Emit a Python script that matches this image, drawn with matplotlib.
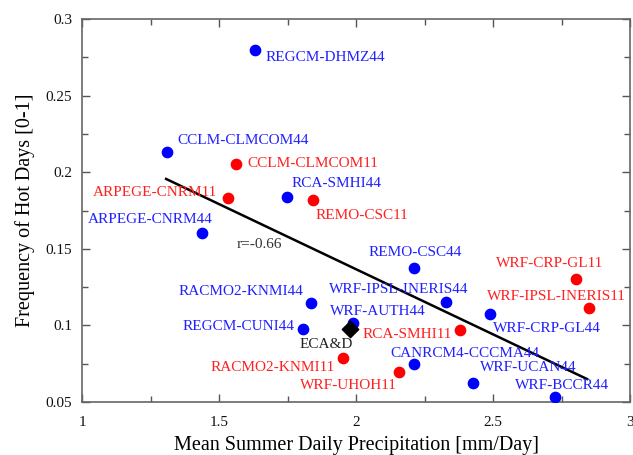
import numpy as np
import matplotlib
matplotlib.use('Agg')
from matplotlib import pyplot as plt
from matplotlib.ticker import MultipleLocator

plt.rcParams['font.family'] = ['Liberation Serif', 'DejaVu Serif']

# ===数据==== #
blue_names = ['REGCM-DHMZ44', 'CCLM-CLMCOM44', 'RCA-SMHI44', 'ARPEGE-CNRM44',
              'RACMO2-KNMI44', 'REGCM-CUNI44', 'REMO-CSC44', 'WRF-IPSL-INERIS44',
              'WRF-CRP-GL44', 'WRF-AUTH44', 'CANRCM4-CCCMA44', 'WRF-UCAN44', 'WRF-BCCR44']
blue_x = [1.631, 1.310, 1.748, 1.438, 1.836, 1.806, 2.212, 2.328, 2.489, 1.989, 2.212, 2.427, 2.726]
blue_y = [0.2798, 0.213, 0.184, 0.160, 0.1146, 0.0977, 0.1375, 0.115, 0.1074, 0.1016, 0.0748, 0.0624, 0.0533]

red_names = ['CCLM-CLMCOM11', 'ARPEGE-CNRM11', 'REMO-CSC11', 'WRF-CRP-GL11',
             'WRF-IPSL-INERIS11', 'RCA-SMHI11', 'RACMO2-KNMI11', 'WRF-UHOH11']
red_x = [1.562, 1.533, 1.843, 2.803, 2.850, 2.380, 1.953, 2.157]
red_y = [0.2053, 0.183, 0.1818, 0.130, 0.1114, 0.097, 0.0787, 0.0696]

obs_name = 'ECA&D'
obs_x = [1.978]
obs_y = [0.0975]

fit_x = [1.307, 2.843]
fit_y = [0.1956, 0.065]
r_text = 'r=-0.66'

# 标签偏移 (像素, dx, dy, 对齐)
offsets = {
    'REGCM-DHMZ44': (11, -8, 'left'),
    'CCLM-CLMCOM44': (10, 12, 'left'),
    'RCA-SMHI44': (5, 13, 'left'),
    'ARPEGE-CNRM44': (11, 14, 'right'),
    'RACMO2-KNMI44': (-8, 12, 'right'),
    'REGCM-CUNI44': (-8, 2, 'right'),
    'REMO-CSC44': (1, 15, 'center'),
    'WRF-IPSL-INERIS44': (23, 13, 'right'),
    'WRF-CRP-GL44': (3, -14, 'left'),
    'WRF-AUTH44': (-23, 11, 'left'),
    'CANRCM4-CCCMA44': (-24, 11, 'left'),
    'WRF-UCAN44': (7, 16, 'left'),
    'WRF-BCCR44': (-40, 11, 'left'),
    'CCLM-CLMCOM11': (11, 1, 'left'),
    'ARPEGE-CNRM11': (-11, 6, 'right'),
    'REMO-CSC11': (3, -15, 'left'),
    'WRF-CRP-GL11': (27, 16, 'right'),
    'WRF-IPSL-INERIS11': (37, 11, 'right'),
    'RCA-SMHI11': (-8, -5, 'right'),
    'RACMO2-KNMI11': (-8, -9, 'right'),
    'WRF-UHOH11': (-2, -14, 'right'),
    'ECA&D': (3, -15, 'right'),
}

fig = plt.figure(figsize=(6.33, 4.55), dpi=100)
ax = fig.add_axes([82 / 633, 1 - 402 / 455, 548 / 633, 383 / 455])

ax.plot(fit_x, fit_y, c='k', lw=1.8, zorder=2)
ax.scatter(blue_x, blue_y, s=55, c='#0000ff', zorder=3)
ax.scatter(red_x, red_y, s=55, c='#ff0000', zorder=3)
ax.scatter(obs_x, obs_y, s=70, c='k', marker='D', zorder=3)


def put_labels(names, xs, ys, color):
    for n, x, y in zip(names, xs, ys):
        dx, dy, ha = offsets[n]
        ax.annotate(n, (x, y), xytext=(dx * 0.72, dy * 0.72), textcoords='offset points',
                    ha=ha, va='center', color=color, fontsize=11)


put_labels(blue_names, blue_x, blue_y, '#2020ff')
put_labels(red_names, red_x, red_y, '#ff2020')
put_labels([obs_name], obs_x, obs_y, '#222222')
ax.text(1.566, 0.1525, r_text, fontsize=11, color='#333333', va='center', ha='left')

ax.set_xlim(1, 3)
ax.set_ylim(0.05, 0.3)
ax.xaxis.set_major_locator(MultipleLocator(0.5))
ax.xaxis.set_minor_locator(MultipleLocator(0.25))
ax.yaxis.set_major_locator(MultipleLocator(0.05))
ax.yaxis.set_minor_locator(MultipleLocator(0.025))
ax.set_xticks([1, 1.5, 2, 2.5, 3])
ax.set_xticklabels(['1', '1.5', '2', '2.5', '3'])
ax.set_yticks([0.05, 0.1, 0.15, 0.2, 0.25, 0.3])
ax.set_yticklabels(['0.05', '0.1', '0.15', '0.2', '0.25', '0.3'])
ax.tick_params(which='both', direction='in', top=True, right=True, colors='#555555',
               labelcolor='#111111', labelsize=11)
ax.tick_params(which='major', length=6, width=1)
ax.tick_params(which='minor', length=4, width=1)
ax.tick_params(axis='x', which='major', pad=10)
ax.tick_params(axis='y', which='major', pad=7)
for s in ax.spines.values():
    s.set_color('#666666')
    s.set_linewidth(1.2)

ax.set_xlabel('Mean Summer Daily Precipitation [mm/Day]', fontsize=14.5, labelpad=5)
ax.set_ylabel('Frequency of Hot Days [0-1]', fontsize=14.5, labelpad=8)

fig.savefig('out.png', dpi=100)
